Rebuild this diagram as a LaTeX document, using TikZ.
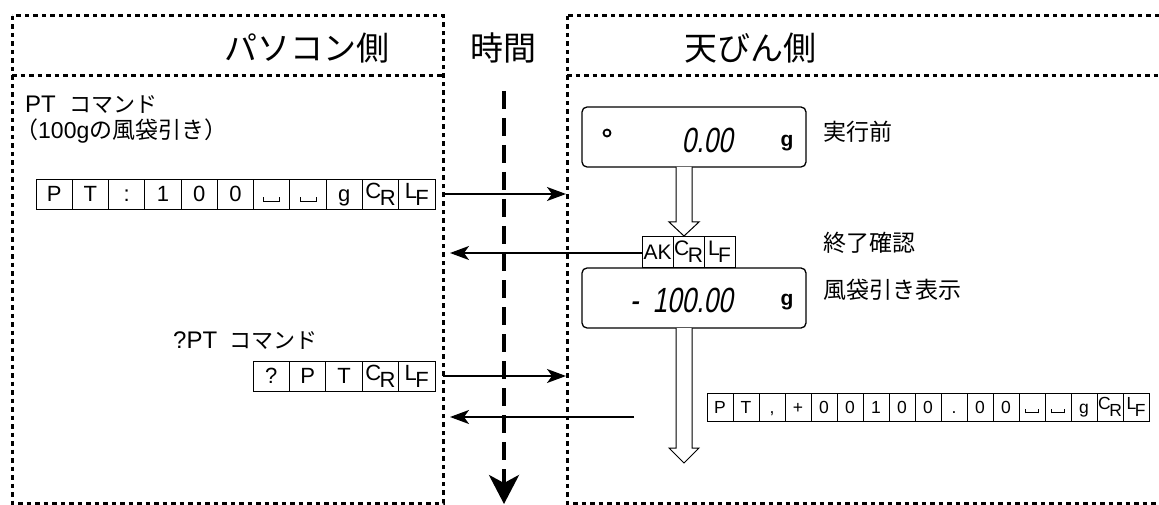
\documentclass[tikz,border=0pt]{standalone}
\usepackage{fontspec}
\usepackage{graphicx}
\setmainfont{Liberation Sans}
\newfontfamily\jp{Noto Sans CJK JP}
\newfontfamily\seg[FakeSlant=0.18,FakeStretch=0.75]{Liberation Sans}
\usetikzlibrary{arrows.meta,calc}
\newcommand\mycr{\raisebox{3.5pt}{C}\kern-1.5pt\raisebox{-3.5pt}{R}}
\newcommand\mylf{\raisebox{3.5pt}{L}\kern-1.5pt\raisebox{-3.5pt}{F}}
\newcommand\myblank{\rule{0.9pt}{5pt}\rule{15pt}{0.9pt}\rule{0.9pt}{5pt}}
\newcommand\mysmallblank{\rule{0.9pt}{4pt}\rule{12pt}{0.9pt}\rule{0.9pt}{4pt}}
\begin{document}
\begin{tikzpicture}[x=1pt,y=-1pt,
  border/.style={line width=3pt, dash pattern=on 4.5pt off 4pt},
  timeline/.style={line width=3.6pt, dash pattern=on 18pt off 9pt},
  msg/.style={line width=1.6pt, -{Stealth[length=19pt,width=14pt,inset=5pt]}},
  cell/.style={draw, line width=0.9pt, inner sep=0pt, text height=15.5pt, text depth=0pt, font=\fontsize{22}{22}\selectfont},
  disp/.style={draw, line width=1.3pt, rounded corners=5pt, minimum width=224pt, minimum height=60pt, inner sep=0pt},
  hollow/.style={draw, line width=1pt, fill=white},
  head/.style={font=\jp\fontsize{33}{33}\selectfont, inner sep=0pt},
  lab/.style={font=\jp\fontsize{23}{23}\selectfont, inner sep=0pt, anchor=west},
  segtxt/.style={font=\seg\fontsize{35}{35}\selectfont, inner sep=0pt},
  unit/.style={font=\bfseries\fontsize{21}{21}\selectfont, inner sep=0pt}]
\useasboundingbox (0,0) rectangle (1159,505);
% frames
\draw[border] (12,16) rectangle (443,503);
\draw[border] (12,76) -- (443,76);
\draw[border] (567,16) rectangle (1175,503);
\draw[border] (567,76) -- (1175,76);
% headers
\node[head, anchor=east] (pc) at (390,48) {パソコン側};
\node[head] (time) at (503,48) {時間};
\node[head, anchor=west] (bal) at (684,48) {天びん側};
% time line
\coordinate (t0) at (504,91);
\coordinate (t1) at (504,504);
\draw[timeline, -{Stealth[length=29pt,width=30pt,inset=8pt]}] (t0) -- (t1);
% left labels
\node[anchor=west, inner sep=0pt] (ptl) at (25,105) {\fontsize{24}{24}\selectfont PT\hspace{14pt}{\jp\fontsize{22}{22}\selectfont コマンド}};
\node[anchor=west, inner sep=0pt] (ptd) at (15,131) {\fontsize{23}{23}\selectfont{\jp （}100g{\jp の風袋引き）}};
\node[anchor=west, inner sep=0pt] (qpt) at (173,341) {\fontsize{24}{24}\selectfont ?PT\hspace{12pt}{\jp\fontsize{22}{22}\selectfont コマンド}};
% row 1
\foreach \t [count=\i] in {P,T,:,1,0,0,\myblank,\myblank,g,\mycr,\mylf}
  \node[cell, minimum width=36.3pt, minimum height=30pt] (ra-\i) at ({36+(\i-0.5)*36.27},194) {\t};
% row 2
\foreach \t [count=\i] in {?,P,T,\mycr,\mylf}
  \node[cell, minimum width=36.4pt, minimum height=30pt] (rb-\i) at ({253+(\i-0.5)*36.4},376) {\t};
% displays
\node[disp] (disp1) at (694,137) {};
\node[circle, draw, line width=1.8pt, minimum size=7pt, inner sep=0pt] (ind) at (607,133) {};
\node[segtxt, anchor=east] (d1) at (733,140) {0.00};
\node[unit] (g1) at (787,143) {g};
\node[disp] (disp2) at (694,298) {};
\node[segtxt, anchor=east] (d2) at (733,300) {-\hspace{14pt}100.00};
\node[unit] (g2) at (787,302) {g};
% AK row
\foreach \t [count=\i] in {AK,\mycr,\mylf}
  \node[cell, font=\fontsize{21}{21}\selectfont, text height=15pt, minimum width=31pt, minimum height=31pt] (ak-\i) at ({642+(\i-0.5)*31},251.5) {\t};
% response row
\foreach \t [count=\i] in {P,T,{,},+,0,0,1,0,0,.,0,0,\mysmallblank,\mysmallblank,g,\mycr,\mylf}
  \node[cell, font=\fontsize{17.5}{17.5}\selectfont, text height=12.5pt, minimum width=26pt, minimum height=28pt] (rc-\i) at ({707+(\i-0.5)*26},407) {\t};
% hollow arrows
\draw[hollow] (676,167) -- (676,222) -- (669,222) -- (684,236) -- (699,222) -- (692,222) -- (692,167);
\draw[hollow] (676,328) -- (676,448) -- (669,448) -- (684,463) -- (699,448) -- (692,448) -- (692,328);
% labels right
\node[lab] (l1) at (823,132) {実行前};
\node[lab] (l2) at (823,243) {終了確認};
\node[lab] (l3) at (823,290) {風袋引き表示};
% messages
\coordinate (s1) at (443,194); \coordinate (e1) at (566,194);
\draw[msg] (s1) -- (e1);
\coordinate (e2) at (450,253);
\draw[msg] (ak-1.west |- e2) -- (e2);
\coordinate (s3) at (443,376); \coordinate (e3) at (566,376);
\draw[msg] (s3) -- (e3);
\coordinate (s4) at (634,417); \coordinate (e4) at (450,417);
\draw[msg] (s4) -- (e4);
\end{tikzpicture}
\end{document}
